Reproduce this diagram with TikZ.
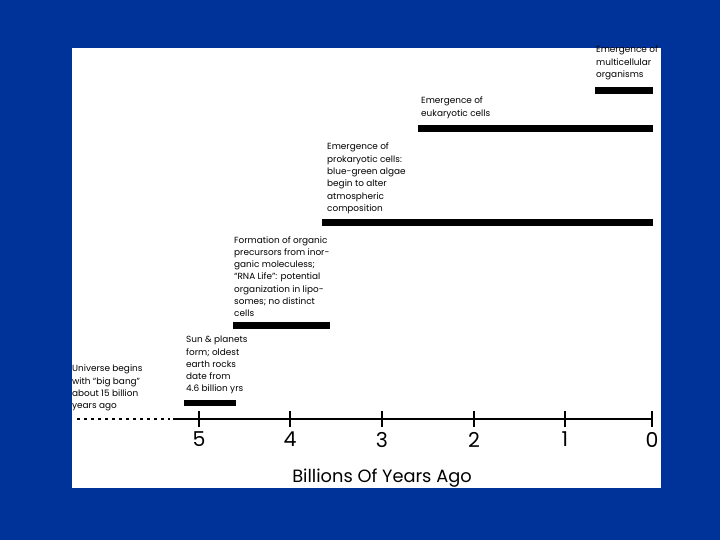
\documentclass[tikz,border=0pt]{standalone}
\usepackage{fontspec}
\setmainfont{Poppins}
\definecolor{bgblue}{RGB}{0,51,153}
\tikzset{
  lbl/.style={anchor=north west, inner sep=0pt, align=left, font=\fontsize{8.9}{12.3}\selectfont},
  bar/.style={line width=6.5pt},
  axisline/.style={line width=2.6pt},
  tickline/.style={line width=2.6pt},
  ticklbl/.style={anchor=center, inner sep=0pt, font=\fontsize{20.5}{21}\selectfont},
}
\begin{document}
\begin{tikzpicture}[x=1pt,y=-1pt]
\useasboundingbox (0,0) rectangle (720,540);
\fill[bgblue] (0,0) rectangle (720,540);
\fill[white] (72,48) rectangle (661,488);
% axis
\coordinate (dotA) at (77,419);
\coordinate (dotB) at (170,419);
\coordinate (axA) at (173,419);
\coordinate (axB) at (653,419);
\draw[line width=2.8pt, dash pattern=on 2.8pt off 4.2pt] (dotA) -- (dotB);
\draw[axisline] (axA) -- (axB);
\foreach \v/\x in {5/199,4/290,3/382,2/474,1/565,0/652}{
  \coordinate (t\v a) at (\x,411);
  \coordinate (t\v b) at (\x,427);
  \draw[tickline] (t\v a) -- (t\v b);
  \node[ticklbl] (l\v) at (\x,439.5) {\v};
}
\node[anchor=center, inner sep=0pt, font=\fontsize{17.8}{18}\selectfont] (title) at (382,478) {Billions Of Years Ago};
% bars
\coordinate (b1a) at (184,403); \coordinate (b1b) at (236,403);
\coordinate (b2a) at (233,325.5); \coordinate (b2b) at (330,325.5);
\coordinate (b3a) at (322,222.5); \coordinate (b3b) at (653,222.5);
\coordinate (b4a) at (418,128.5); \coordinate (b4b) at (653,128.5);
\coordinate (b5a) at (595,90.5); \coordinate (b5b) at (653,90.5);
\draw[bar] (b1a) -- (b1b);
\draw[bar] (b2a) -- (b2b);
\draw[bar] (b3a) -- (b3b);
\draw[bar] (b4a) -- (b4b);
\draw[bar] (b5a) -- (b5b);
% labels
\node[lbl] (univ) at (72,365) {Universe begins\\with ``big bang''\\about 15 billion\\years ago};
\node[lbl] (sun) at (186,336) {Sun \& planets\\form; oldest\\earth rocks\\date from\\4.6 billion yrs};
\node[lbl] (form) at (234,236) {Formation of organic\\precursors from inor-\\ganic moleculess;\\``RNA Life'': potential\\organization in lipo-\\somes; no distinct\\cells};
\node[lbl] (prok) at (327,143) {Emergence of\\prokaryotic cells:\\blue-green algae\\begin to alter\\atmospheric\\composition};
\node[lbl] (euk) at (421,97) {Emergence of\\eukaryotic cells};
\begin{scope}
\clip (72,40) rectangle (661,488);
\node[lbl] (multi) at (596,46) {Emergence of\\multicellular\\organisms};
\end{scope}
\end{tikzpicture}
\end{document}
